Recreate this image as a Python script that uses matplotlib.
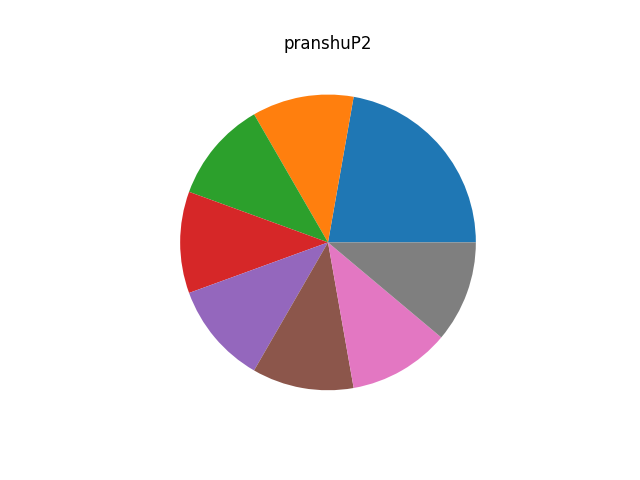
import matplotlib
matplotlib.use("Agg")
import matplotlib.pyplot as plt

# slice sizes: first wedge is twice the others
sizes = [2, 1, 1, 1, 1, 1, 1, 1]
title = "pranshuP2"

fig, ax = plt.subplots(figsize=(6.4, 4.8), dpi=100)
ax.pie(sizes)
ax.set_title(title)
fig.savefig("out.png")
